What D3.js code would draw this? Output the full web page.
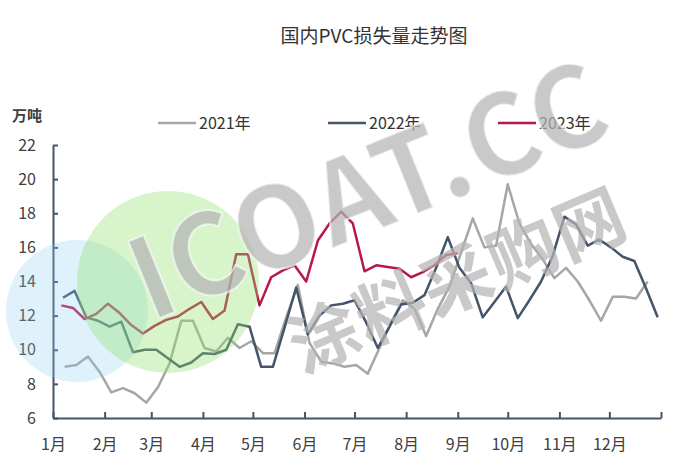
<!DOCTYPE html>
<html>
<head>
<meta charset="utf-8">
<script src="https://cdn.jsdelivr.net/npm/d3@7/dist/d3.min.js"></script>
<style>
  html, body { margin: 0; padding: 0; background: #ffffff; }
  svg { display: block; }
  text { font-family: "Noto Sans CJK SC", "Noto Sans", sans-serif; }
</style>
</head>
<body>
<svg id="chart" width="680" height="461"></svg>
<script>
// ---------- data ----------
const chartTitle = "国内PVC损失量走势图";
const unitLabel = "万吨";
const monthLabels = ["1月","2月","3月","4月","5月","6月","7月","8月","9月","10月","11月","12月"];
const monthStartDates = ["01-01","02-01","03-01","04-01","05-01","06-01","07-01","08-01","09-01","10-01","11-01","12-01"];
const yTickValues = [6, 8, 10, 12, 14, 16, 18, 20, 22];
const seriesNames = ["2021年", "2022年", "2023年"];
const seriesFirstDates = ["2021-01-08", "2022-01-07", "2023-01-06"]; // weekly, Fridays

const values2021 = [9.0, 9.1, 9.6, 8.7, 7.5, 7.75, 7.45, 6.9, 7.8, 9.2,
  11.7, 11.7, 10.1, 9.9, 10.7, 10.1, 10.5, 9.8, 9.8, 11.9,
  13.8, 10.4, 9.3, 9.2, 9.0, 9.1, 8.6, 10.1, 11.6, 12.9,
  12.4, 10.8, 12.4, 13.7, 15.7, 17.7, 16.0, 16.1, 19.7, 17.4,
  16.2, 15.3, 14.2, 14.8, 14.0, 12.9, 11.7, 13.1, 13.1, 13.0, 14.0];

const values2022 = [13.05, 13.45, 11.9, 11.7, 11.35, 11.65, 9.85, 10.0, 10.0, 9.5,
  9.0, 9.25, 9.8, 9.75, 10.0, 11.5, 11.35, 9.0, 9.0, 11.3,
  13.65, 10.9, 12.0, 12.6, 12.7, 12.9, 11.6, 10.1, 11.35, 12.65,
  12.75, 13.2, 14.8, 16.6, 14.8, 13.9, 11.9, 12.8, 13.7, 11.85,
  12.9, 14.0, 15.5, 17.8, 17.35, 16.1, 16.45, 16.0, 15.45, 15.2,
  13.6, 11.9];

const values2023 = [12.6, 12.45, 11.8, 12.1, 12.7, 12.15, 11.45, 10.95, 11.4, 11.75,
  11.95, 12.4, 12.8, 11.8, 12.3, 15.6, 15.6, 12.6, 14.25, 14.65,
  14.95, 14.0, 16.4, 17.4, 18.1, 17.4, 14.6, 14.95, 14.85, 14.75,
  14.25, 14.55, 14.95, 15.55, 15.65];

const seriesValues = [values2021, values2022, values2023];
const seriesColors = ["#a6a6a6", "#44546a", "#b8194a"];

// ---------- helpers ----------
const parse = d3.timeParse("%Y-%m-%d");
function dayOfYear(date) {
  return d3.timeDay.count(d3.timeYear.floor(date), date);
}
function seriesPoints(values, firstDate) {
  const d0 = parse(firstDate);
  return values.map((v, i) => ({ day: dayOfYear(d3.timeDay.offset(d0, 7 * i)), value: v }));
}

// ---------- layout ----------
const svg = d3.select("#chart");
const margin = { left: 53, right: 19, top: 145, bottom: 43 };
const W = 680, H = 461;

const x = d3.scaleLinear().domain([0, 365]).range([margin.left, W - margin.right]);
const y = d3.scaleLinear().domain([6, 22]).range([H - margin.bottom, margin.top]);

const axisColor = "#44546a";
const textColor = "#404040";

// title
svg.append("text")
  .attr("x", 374).attr("y", 43)
  .attr("text-anchor", "middle")
  .attr("font-size", 19)
  .attr("fill", "#333333")
  .text(chartTitle);

// unit label
svg.append("text")
  .attr("x", 12).attr("y", 121)
  .attr("font-size", 15)
  .attr("font-weight", "bold")
  .attr("fill", textColor)
  .text(unitLabel);

// legend
const legendX = [158, 328, 498];
const legend = svg.append("g");
seriesNames.forEach((name, i) => {
  const g = legend.append("g").attr("transform", `translate(${legendX[i]},123)`);
  g.append("line").attr("x1", 0).attr("x2", 38).attr("y1", 0).attr("y2", 0)
    .attr("stroke", seriesColors[i]).attr("stroke-width", 2.5);
  g.append("text").attr("x", 41).attr("y", 6)
    .attr("font-size", 16).attr("fill", "#333333").text(name);
});

// axes
const monthDays = monthStartDates.map(s => dayOfYear(parse("2021-" + s)));
const xTicks = monthDays.concat([365]);

const xAxis = d3.axisBottom(x)
  .tickValues(xTicks)
  .tickSizeInner(-6)
  .tickSizeOuter(0)
  .tickPadding(21)
  .tickFormat((d, i) => monthLabels[i] || "");

const yAxis = d3.axisLeft(y)
  .tickValues(yTickValues)
  .tickSizeInner(-5)
  .tickSizeOuter(0)
  .tickPadding(17)
  .tickFormat(d3.format("d"));

const gx = svg.append("g").attr("transform", `translate(0,${H - margin.bottom})`).call(xAxis);
const gy = svg.append("g").attr("transform", `translate(${margin.left},0)`).call(yAxis);

[gx, gy].forEach(g => {
  g.select(".domain").attr("stroke", axisColor).attr("stroke-width", 2);
  g.selectAll(".tick line").attr("stroke", axisColor).attr("stroke-width", 2);
  g.selectAll(".tick text").attr("fill", textColor).attr("font-size", 16)
    .attr("font-family", "'Noto Sans CJK SC', 'Noto Sans', sans-serif");
});

// lines
const line = d3.line().x(d => x(d.day)).y(d => y(d.value));
seriesValues.forEach((vals, i) => {
  svg.append("path")
    .datum(seriesPoints(vals, seriesFirstDates[i]))
    .attr("fill", "none")
    .attr("stroke", seriesColors[i])
    .attr("stroke-width", 2.5)
    .attr("stroke-linejoin", "round")
    .attr("d", line);
});

// watermark decoration
const wm = svg.append("g").attr("pointer-events", "none");
wm.append("circle").attr("cx", 77).attr("cy", 311).attr("r", 71)
  .attr("fill", "#8ccdf0").attr("opacity", 0.28);
wm.append("circle").attr("cx", 168).attr("cy", 282).attr("r", 91)
  .attr("fill", "#8fe070").attr("opacity", 0.36);

wm.append("text")
  .attr("transform", "translate(150,322) rotate(-22)")
  .attr("font-family", "'Liberation Sans', Arial, sans-serif")
  .attr("font-weight", "bold")
  .attr("font-size", 112)
  .attr("letter-spacing", 2)
  .attr("fill", "#b4b4b4")
  .attr("fill-opacity", 0.72)
  .attr("stroke", "#ffffff")
  .attr("stroke-width", 2)
  .attr("stroke-opacity", 0.6)
  .text("ICOAT.CC");

wm.append("text")
  .attr("transform", "translate(302,374) rotate(-23)")
  .attr("font-family", "'Noto Sans CJK SC', sans-serif")
  .attr("font-weight", "bold")
  .attr("font-size", 70)
  .attr("letter-spacing", 2)
  .attr("fill", "#b4b4b4")
  .attr("fill-opacity", 0.72)
  .text("涂料采购网");
</script>
</body>
</html>
